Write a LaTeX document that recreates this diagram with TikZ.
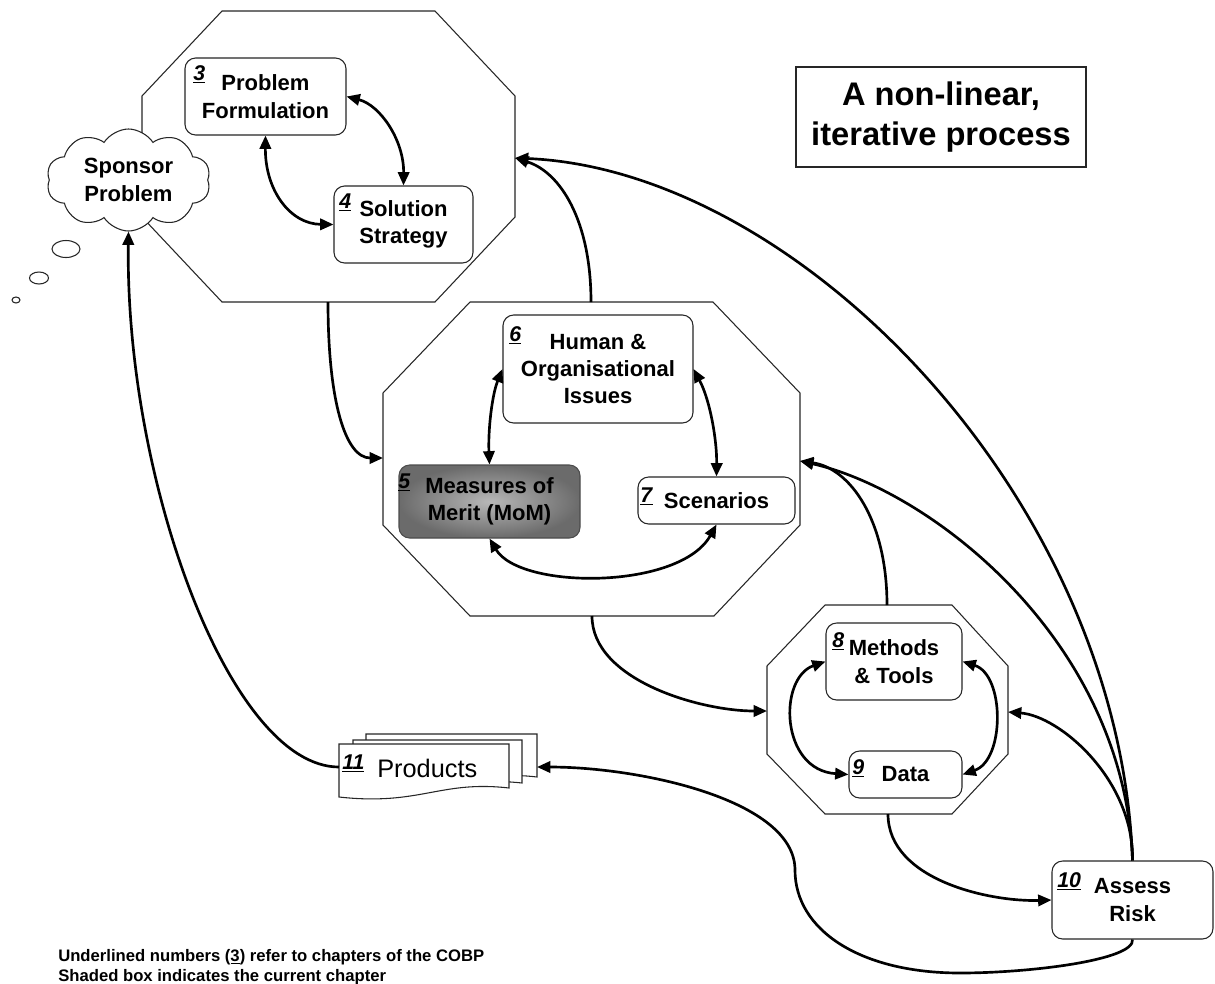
\documentclass[tikz,border=0pt]{standalone}
\usepackage{fontspec}
\setmainfont{Liberation Sans}
\usetikzlibrary{arrows.meta,shapes.geometric,shapes.symbols}
\def\U{0.75pt}
\newcommand\chnum[1]{\underline{\textit{#1}}}
\tikzset{
  octa/.style={draw=black!85, line width=0.8pt, fill=white},
  stepbox/.style={draw=black!85, line width=0.8pt, fill=white, rounded corners=8pt, inner sep=0pt, align=center,
     font=\fontsize{16.5}{20.5}\selectfont\bfseries},
  numlab/.style={inner sep=0pt, anchor=base west, font=\fontsize{16}{18}\selectfont\bfseries},
  conn/.style={line width=2pt, -{Triangle[length=10pt,width=8.5pt]}},
  biconn/.style={line width=2pt, {Triangle[length=10pt,width=8.5pt]}-{Triangle[length=10pt,width=8.5pt]}},
  bubble/.style={ellipse, draw=black!85, line width=0.8pt, fill=white, inner sep=0pt},
  page/.style={draw=black!85, line width=0.8pt, fill=white},
}
\begin{document}
\begin{tikzpicture}[x=0.75pt,y=-0.75pt]
\useasboundingbox (0,0) rectangle (1215,983);

% octagons
\draw[octa] (222,11)--(435,11)--(515,96)--(515,217)--(435,302)--(222,302)--(142,217)--(142,96)--cycle;
\draw[octa] (470,302)--(713,302)--(800,393)--(800,525)--(714,616)--(470,616)--(383,525)--(383,393)--cycle;
\draw[octa] (825,605)--(952,605)--(1008,666)--(1008,754)--(952,814)--(825,814)--(767,754)--(767,666)--cycle;

\coordinate (o1s) at (328,302);
\coordinate (o1e) at (515,158);
\coordinate (o2w) at (383,458);
\coordinate (o2n) at (591,302);
\coordinate (o2s) at (592,616);
\coordinate (o2e) at (800,461);
\coordinate (o3n) at (887,605);
\coordinate (o3w) at (767,711);
\coordinate (o3s) at (888,814);
\coordinate (o3e) at (1008,712);

% cloud and thought bubbles
\node[cloud, draw=black!85, line width=0.8pt, fill=white, cloud puffs=10, cloud puff arc=115, cloud ignores aspect,
      minimum width=164*\U, minimum height=102*\U, inner sep=0pt, align=center,
      font=\fontsize{16.5}{20.5}\selectfont\bfseries] (cloud) at (128.5,180) {Sponsor\\Problem};
\node[bubble, minimum width=28*\U, minimum height=17*\U] (b1) at (66,249) {};
\node[bubble, minimum width=19*\U, minimum height=12*\U] (b2) at (39,278) {};
\node[bubble, minimum width=8*\U, minimum height=6*\U] (b3) at (16,300) {};

% title
\node[draw=black!85, line width=0.8pt, minimum width=290*\U, minimum height=100*\U, align=center,
      font=\fontsize{24.5}{30}\selectfont\bfseries] (title) at (941,117) {A non-linear,\\iterative process};

% boxes
\node[stepbox, minimum width=161*\U, minimum height=77*\U] (pf) at (265.5,96.5) {Problem\\Formulation};
\node[stepbox, minimum width=139*\U, minimum height=77*\U] (ss) at (403.5,224.5) {Solution\\Strategy};
\node[stepbox, minimum width=190*\U, minimum height=108*\U] (ho) at (598,369) {Human \&\\Organisational\\Issues};
\node[stepbox, draw=black!70, inner color=black!28, outer color=black!58,
      minimum width=181*\U, minimum height=73*\U] (mom) at (489.5,501.5) {Measures of\\Merit (MoM)};
\node[stepbox, minimum width=157*\U, minimum height=47*\U] (sc) at (716.5,500.5) {Scenarios};
\node[stepbox, minimum width=136*\U, minimum height=77*\U] (mt) at (894,661.5) {Methods\\\& Tools};
\node[stepbox, minimum width=113*\U, minimum height=47*\U] (data) at (905.5,774.5) {Data};
\node[stepbox, minimum width=161*\U, minimum height=78*\U] (ar) at (1132.5,900) {Assess\\Risk};

% products pages
\draw[page] (366,734)--(537,734)--(537,777) .. controls (480,770) and (450,790) .. (366,787) -- cycle;
\draw[page] (353,740)--(522,740)--(522,783) .. controls (460,776) and (430,798) .. (353,792) -- cycle;
\draw[page] (339,744)--(509,744)--(509,788) .. controls (440,780) and (420,806) .. (339,797) -- cycle;
\node[inner sep=0pt, anchor=base west, font=\fontsize{19}{22}\selectfont] (prod) at (377,777) {Products};
\coordinate (prodL) at (339,767);
\coordinate (prodR) at (537,767);

% chapter numbers
\node[numlab] (n3) at (193,80) {\chnum{3}};
\node[numlab] (n4) at (339,208) {\chnum{4}};
\node[numlab] (n6) at (509,341) {\chnum{6}};
\node[numlab] (n5) at (398,488) {\chnum{5}};
\node[numlab] (n7) at (640,502) {\chnum{7}};
\node[numlab] (n8) at (832,647) {\chnum{8}};
\node[numlab] (n9) at (852,774) {\chnum{9}};
\node[numlab] (n10) at (1057,887) {\chnum{10}};
\node[numlab] (n11) at (342,769) {\chnum{11}};

% connectors inside octagons
\draw[biconn] (pf.east) .. controls (380,105) and (404,140) .. (ss.north);
\draw[biconn] (pf.south) .. controls (265,190) and (290,224) .. (ss.west);
\draw[biconn] (ho.west) .. controls (492,395) and (488,430) .. (mom.north);
\draw[biconn] (ho.east) .. controls (710,400) and (717,440) .. (sc.north);
\draw[biconn] (mom.south) .. controls (520,590) and (680,590) .. (sc.south);
\draw[biconn] (mt.west) .. controls (778,678) and (780,770) .. (data.west);
\draw[biconn] (mt.east) .. controls (1005,675) and (1005,760) .. (data.east);

% connectors between octagons
\draw[conn] (o1s) .. controls (328,400) and (345,458) .. (o2w);
\draw[conn] (o2n) .. controls (591,220) and (560,172) .. (o1e);
\draw[conn] (o2s) .. controls (592,680) and (700,711) .. (o3w);
\draw[conn] (o3n) .. controls (887,520) and (850,468) .. (o2e);
\draw[conn] (o3s) .. controls (888,880) and (990,902) .. (ar.west);
\draw[conn] (ar.north) .. controls (1134,780) and (1060,716) .. (o3e);
\draw[conn] (ar.north) .. controls (1125,640) and (930,490) .. (o2e);
\draw[conn] (ar.north) .. controls (1120,500) and (800,170) .. (o1e);
\draw[conn] (ar.south) .. controls (1135,960) and (1030,973) .. (960,973)
   .. controls (860,973) and (795,930) .. (795,870)
   .. controls (795,800) and (640,767) .. (prodR);
\draw[conn] (prodL) .. controls (230,767) and (125,480) .. (cloud.south);

% footer
\node[inner sep=0pt, anchor=base west, font=\fontsize{12.5}{15}\selectfont\bfseries] (f1) at (58,961)
   {Underlined numbers (\underline{3}) refer to chapters of the COBP};
\node[inner sep=0pt, anchor=base west, font=\fontsize{12.5}{15}\selectfont\bfseries] (f2) at (58,981)
   {Shaded box indicates the current chapter};
\end{tikzpicture}
\end{document}
